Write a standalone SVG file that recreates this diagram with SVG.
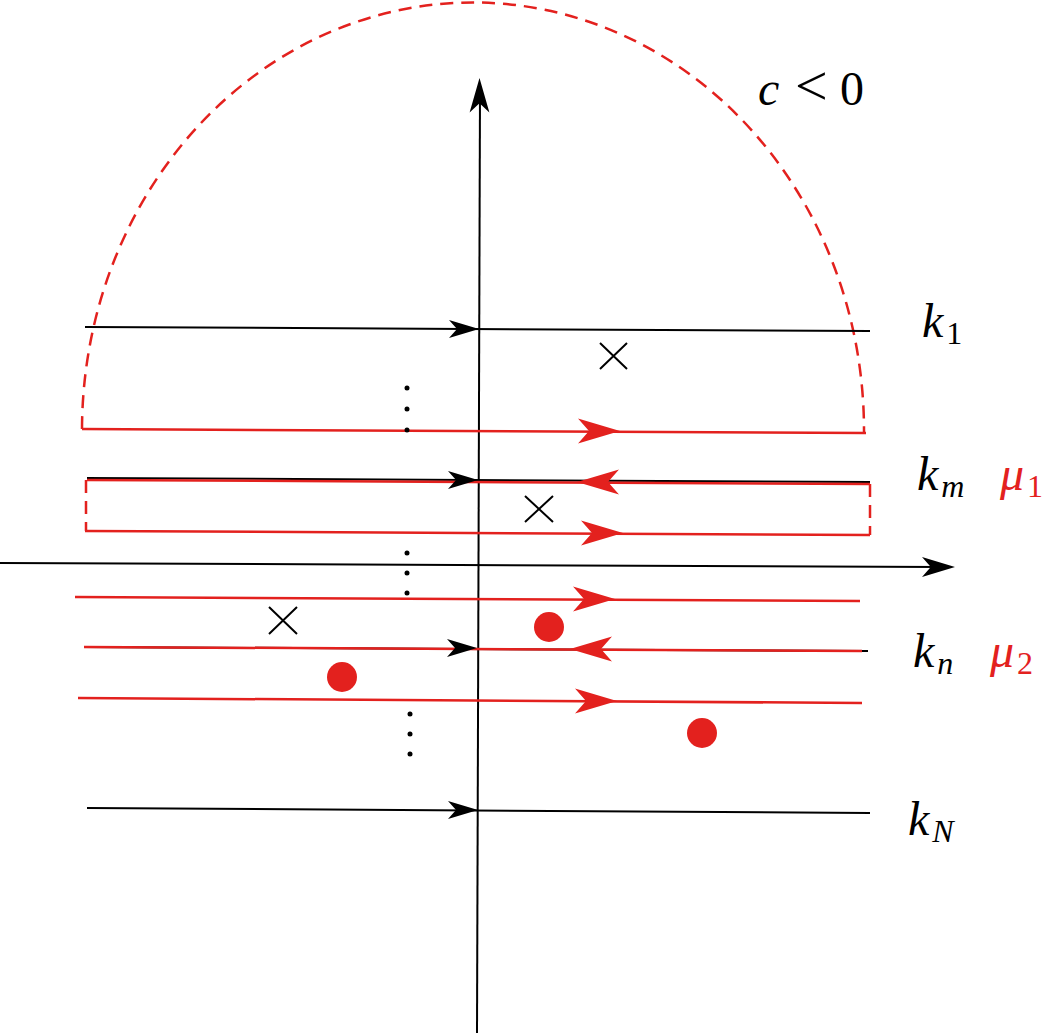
<svg xmlns="http://www.w3.org/2000/svg" xmlns:xlink="http://www.w3.org/1999/xlink" width="1044" height="1033" viewBox="0 0 1044 1033">
<style>
.bl{stroke:#000;stroke-width:2;fill:none}
.rd{stroke:#e3211e;stroke-width:2.5;fill:none}
.rdd{stroke:#e3211e;stroke-width:2.5;fill:none;stroke-dasharray:13 8}
.x{stroke:#000;stroke-width:2;fill:none}
</style>
<defs>
<path id="ahb" d="M0,0 L-30,-9 L-22,0 L-30,9 Z" fill="#000"/>
<path id="ahr" d="M0,0 L-42,-12.5 L-31,0 L-42,12.5 Z" fill="#e3211e"/>
</defs>
<g id="connectors">
<line class="bl" x1="480" y1="90" x2="477" y2="1033"/>
<use xlink:href="#ahb" transform="translate(479.5,78) rotate(-90) scale(1.15,1.1)"/>
<line class="bl" x1="0" y1="563" x2="940" y2="567"/>
<use xlink:href="#ahb" transform="translate(955,567) scale(1.1,1.1)"/>
<path class="rdd" d="M82,429 A391,428 0 0 1 864,432"/>
<line class="rd" x1="82" y1="429" x2="866" y2="433"/>
<use xlink:href="#ahr" transform="translate(620,431)"/>
<line class="bl" x1="85" y1="327" x2="870" y2="331"/>
<use xlink:href="#ahb" transform="translate(479,329)"/>
<line class="bl" x1="87" y1="478" x2="870" y2="482"/>
<line class="rd" x1="87" y1="480" x2="870" y2="484"/>
<use xlink:href="#ahb" transform="translate(478,480)"/>
<use xlink:href="#ahr" transform="translate(577,482) rotate(180)"/>
<line class="rdd" x1="86" y1="480" x2="86" y2="531"/>
<line class="rdd" x1="870" y1="484" x2="870" y2="535"/>
<line class="rd" x1="85" y1="531" x2="870" y2="535"/>
<use xlink:href="#ahr" transform="translate(623,533)"/>
<line class="rd" x1="75" y1="597" x2="860" y2="601"/>
<use xlink:href="#ahr" transform="translate(615,599)"/>
<line class="bl" x1="84" y1="647" x2="868" y2="651"/>
<line class="rd" x1="84" y1="647" x2="862" y2="651"/>
<use xlink:href="#ahb" transform="translate(477,648)"/>
<use xlink:href="#ahr" transform="translate(570,649) rotate(180)"/>
<line class="rd" x1="78" y1="698" x2="862" y2="703"/>
<use xlink:href="#ahr" transform="translate(617,701)"/>
<line class="bl" x1="87" y1="808" x2="870" y2="813"/>
<use xlink:href="#ahb" transform="translate(478,810)"/>
</g>
<g id="crosses">
<path class="x" d="M600,343 L627,369 M627,343 L600,369"/>
<path class="x" d="M525,496 L553,522 M553,496 L525,522"/>
<path class="x" d="M269,607 L297,634 M297,607 L269,634"/>
</g>
<g id="poles" fill="#e3211e">
<circle cx="549" cy="627" r="15"/>
<circle cx="342" cy="677" r="15"/>
<circle cx="702" cy="733" r="15"/>
</g>
<g id="dots" fill="#000">
<circle cx="407" cy="388" r="2.5"/><circle cx="407" cy="409" r="2.5"/><circle cx="407" cy="430" r="2.5"/>
<circle cx="407" cy="553" r="2.5"/><circle cx="407" cy="573" r="2.5"/><circle cx="407" cy="593" r="2.5"/>
<circle cx="410" cy="714" r="2.5"/><circle cx="410" cy="734" r="2.5"/><circle cx="410" cy="754" r="2.5"/>
</g>
<g id="labels" font-family="Liberation Serif, DejaVu Serif, serif" font-size="48" fill="#000">
<text x="758" y="105"><tspan font-style="italic">c</tspan><tspan x="795" font-size="58">&lt;</tspan><tspan x="840">0</tspan></text>
<text x="922" y="337"><tspan font-style="italic">k</tspan><tspan font-size="32" dx="3" dy="7">1</tspan></text>
<text x="917" y="490"><tspan font-style="italic">k</tspan><tspan font-size="32" font-style="italic" dx="3" dy="7">m</tspan></text>
<text x="1000" y="490" fill="#e3211e"><tspan font-style="italic">μ</tspan><tspan font-size="32" dx="3" dy="7">1</tspan></text>
<text x="913" y="667"><tspan font-style="italic">k</tspan><tspan font-size="32" font-style="italic" dx="3" dy="7">n</tspan></text>
<text x="990" y="667" fill="#e3211e"><tspan font-style="italic">μ</tspan><tspan font-size="32" dx="3" dy="7">2</tspan></text>
<text x="908" y="835"><tspan font-style="italic">k</tspan><tspan font-size="32" font-style="italic" dx="3" dy="7">N</tspan></text>
</g>
</svg>
